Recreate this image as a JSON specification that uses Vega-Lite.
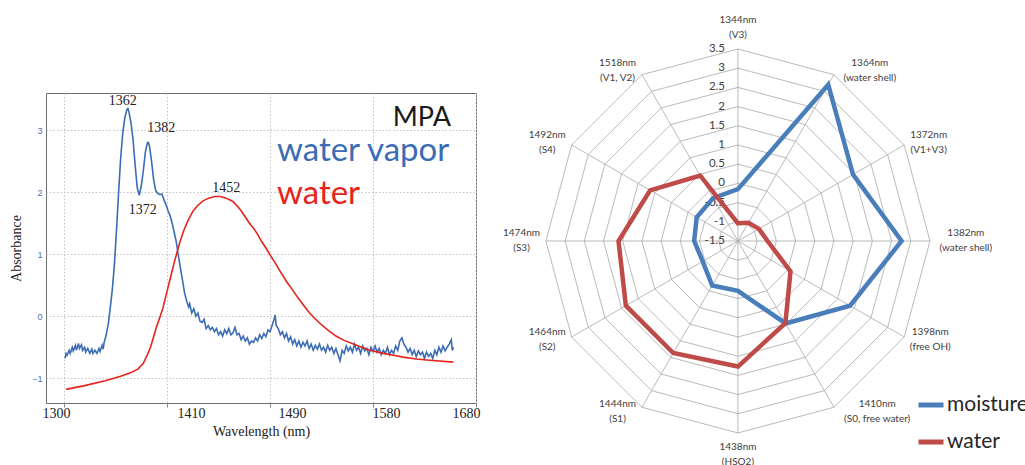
{
  "$schema": "https://vega.github.io/schema/vega-lite/v6.json",
  "padding": {"left": 9, "top": 0, "right": 0, "bottom": 0},
  "background": "white",
  "spacing": 10,
  "config": {"view": {"stroke": null}, "font": "Lato"},
  "resolve": {"scale": {"color": "independent"}, "legend": {"color": "independent"}},
  "datasets": {
    "spectrum": [
      {"s": "water vapor", "wl": 1301, "abs": -0.68}, {"s": "water vapor", "wl": 1302, "abs": -0.6}, {"s": "water vapor", "wl": 1303, "abs": -0.63},
      {"s": "water vapor", "wl": 1305, "abs": -0.55}, {"s": "water vapor", "wl": 1306, "abs": -0.6}, {"s": "water vapor", "wl": 1308, "abs": -0.5},
      {"s": "water vapor", "wl": 1309, "abs": -0.56}, {"s": "water vapor", "wl": 1311, "abs": -0.47}, {"s": "water vapor", "wl": 1312, "abs": -0.55},
      {"s": "water vapor", "wl": 1314, "abs": -0.44}, {"s": "water vapor", "wl": 1315, "abs": -0.52}, {"s": "water vapor", "wl": 1317, "abs": -0.46},
      {"s": "water vapor", "wl": 1318, "abs": -0.55}, {"s": "water vapor", "wl": 1320, "abs": -0.5}, {"s": "water vapor", "wl": 1321, "abs": -0.58},
      {"s": "water vapor", "wl": 1323, "abs": -0.52}, {"s": "water vapor", "wl": 1325, "abs": -0.6}, {"s": "water vapor", "wl": 1327, "abs": -0.53},
      {"s": "water vapor", "wl": 1328, "abs": -0.6}, {"s": "water vapor", "wl": 1330, "abs": -0.55}, {"s": "water vapor", "wl": 1332, "abs": -0.6},
      {"s": "water vapor", "wl": 1334, "abs": -0.52}, {"s": "water vapor", "wl": 1335, "abs": -0.57}, {"s": "water vapor", "wl": 1337, "abs": -0.47},
      {"s": "water vapor", "wl": 1338, "abs": -0.53}, {"s": "water vapor", "wl": 1339, "abs": -0.42}, {"s": "water vapor", "wl": 1341, "abs": -0.3},
      {"s": "water vapor", "wl": 1343, "abs": -0.12}, {"s": "water vapor", "wl": 1345, "abs": 0.15}, {"s": "water vapor", "wl": 1347, "abs": 0.45},
      {"s": "water vapor", "wl": 1349, "abs": 0.85}, {"s": "water vapor", "wl": 1351, "abs": 1.4}, {"s": "water vapor", "wl": 1353, "abs": 2.0},
      {"s": "water vapor", "wl": 1355, "abs": 2.55}, {"s": "water vapor", "wl": 1357, "abs": 2.95}, {"s": "water vapor", "wl": 1359, "abs": 3.2},
      {"s": "water vapor", "wl": 1361, "abs": 3.33}, {"s": "water vapor", "wl": 1362, "abs": 3.35}, {"s": "water vapor", "wl": 1363, "abs": 3.3},
      {"s": "water vapor", "wl": 1365, "abs": 3.12}, {"s": "water vapor", "wl": 1367, "abs": 2.85}, {"s": "water vapor", "wl": 1369, "abs": 2.45},
      {"s": "water vapor", "wl": 1371, "abs": 2.08}, {"s": "water vapor", "wl": 1373, "abs": 1.95}, {"s": "water vapor", "wl": 1375, "abs": 2.1},
      {"s": "water vapor", "wl": 1377, "abs": 2.35}, {"s": "water vapor", "wl": 1379, "abs": 2.65}, {"s": "water vapor", "wl": 1381, "abs": 2.8},
      {"s": "water vapor", "wl": 1382, "abs": 2.8}, {"s": "water vapor", "wl": 1383, "abs": 2.74}, {"s": "water vapor", "wl": 1385, "abs": 2.5},
      {"s": "water vapor", "wl": 1387, "abs": 2.2}, {"s": "water vapor", "wl": 1389, "abs": 2.03}, {"s": "water vapor", "wl": 1391, "abs": 1.98},
      {"s": "water vapor", "wl": 1393, "abs": 1.96}, {"s": "water vapor", "wl": 1395, "abs": 1.97}, {"s": "water vapor", "wl": 1397, "abs": 1.88},
      {"s": "water vapor", "wl": 1399, "abs": 1.8}, {"s": "water vapor", "wl": 1401, "abs": 1.7}, {"s": "water vapor", "wl": 1403, "abs": 1.62},
      {"s": "water vapor", "wl": 1405, "abs": 1.5}, {"s": "water vapor", "wl": 1407, "abs": 1.35}, {"s": "water vapor", "wl": 1409, "abs": 1.2},
      {"s": "water vapor", "wl": 1411, "abs": 0.98}, {"s": "water vapor", "wl": 1413, "abs": 0.78}, {"s": "water vapor", "wl": 1415, "abs": 0.58},
      {"s": "water vapor", "wl": 1417, "abs": 0.38}, {"s": "water vapor", "wl": 1419, "abs": 0.25}, {"s": "water vapor", "wl": 1421, "abs": 0.15},
      {"s": "water vapor", "wl": 1422, "abs": 0.2}, {"s": "water vapor", "wl": 1424, "abs": 0.05}, {"s": "water vapor", "wl": 1426, "abs": 0.12},
      {"s": "water vapor", "wl": 1428, "abs": 0.0}, {"s": "water vapor", "wl": 1430, "abs": 0.05}, {"s": "water vapor", "wl": 1432, "abs": -0.08},
      {"s": "water vapor", "wl": 1434, "abs": -0.1}, {"s": "water vapor", "wl": 1436, "abs": -0.05}, {"s": "water vapor", "wl": 1438, "abs": -0.2},
      {"s": "water vapor", "wl": 1440, "abs": -0.15}, {"s": "water vapor", "wl": 1442, "abs": -0.22}, {"s": "water vapor", "wl": 1444, "abs": -0.18},
      {"s": "water vapor", "wl": 1446, "abs": -0.25}, {"s": "water vapor", "wl": 1448, "abs": -0.2}, {"s": "water vapor", "wl": 1450, "abs": -0.3},
      {"s": "water vapor", "wl": 1452, "abs": -0.25}, {"s": "water vapor", "wl": 1454, "abs": -0.32}, {"s": "water vapor", "wl": 1456, "abs": -0.22},
      {"s": "water vapor", "wl": 1458, "abs": -0.28}, {"s": "water vapor", "wl": 1460, "abs": -0.2}, {"s": "water vapor", "wl": 1462, "abs": -0.3},
      {"s": "water vapor", "wl": 1464, "abs": -0.27}, {"s": "water vapor", "wl": 1466, "abs": -0.18}, {"s": "water vapor", "wl": 1468, "abs": -0.3},
      {"s": "water vapor", "wl": 1470, "abs": -0.28}, {"s": "water vapor", "wl": 1472, "abs": -0.38}, {"s": "water vapor", "wl": 1474, "abs": -0.32},
      {"s": "water vapor", "wl": 1476, "abs": -0.4}, {"s": "water vapor", "wl": 1478, "abs": -0.35}, {"s": "water vapor", "wl": 1480, "abs": -0.45},
      {"s": "water vapor", "wl": 1482, "abs": -0.4}, {"s": "water vapor", "wl": 1484, "abs": -0.42}, {"s": "water vapor", "wl": 1486, "abs": -0.35},
      {"s": "water vapor", "wl": 1488, "abs": -0.4}, {"s": "water vapor", "wl": 1490, "abs": -0.3}, {"s": "water vapor", "wl": 1492, "abs": -0.36},
      {"s": "water vapor", "wl": 1494, "abs": -0.28}, {"s": "water vapor", "wl": 1496, "abs": -0.33}, {"s": "water vapor", "wl": 1498, "abs": -0.22},
      {"s": "water vapor", "wl": 1500, "abs": -0.25}, {"s": "water vapor", "wl": 1502, "abs": -0.15}, {"s": "water vapor", "wl": 1504, "abs": -0.05},
      {"s": "water vapor", "wl": 1505, "abs": 0.02}, {"s": "water vapor", "wl": 1506, "abs": -0.15}, {"s": "water vapor", "wl": 1508, "abs": -0.2},
      {"s": "water vapor", "wl": 1510, "abs": -0.3}, {"s": "water vapor", "wl": 1512, "abs": -0.25}, {"s": "water vapor", "wl": 1514, "abs": -0.35},
      {"s": "water vapor", "wl": 1516, "abs": -0.28}, {"s": "water vapor", "wl": 1518, "abs": -0.4}, {"s": "water vapor", "wl": 1520, "abs": -0.33},
      {"s": "water vapor", "wl": 1522, "abs": -0.45}, {"s": "water vapor", "wl": 1524, "abs": -0.38}, {"s": "water vapor", "wl": 1526, "abs": -0.48},
      {"s": "water vapor", "wl": 1528, "abs": -0.4}, {"s": "water vapor", "wl": 1530, "abs": -0.5}, {"s": "water vapor", "wl": 1532, "abs": -0.42},
      {"s": "water vapor", "wl": 1534, "abs": -0.48}, {"s": "water vapor", "wl": 1536, "abs": -0.4}, {"s": "water vapor", "wl": 1538, "abs": -0.52},
      {"s": "water vapor", "wl": 1540, "abs": -0.45}, {"s": "water vapor", "wl": 1542, "abs": -0.55}, {"s": "water vapor", "wl": 1544, "abs": -0.47},
      {"s": "water vapor", "wl": 1546, "abs": -0.53}, {"s": "water vapor", "wl": 1548, "abs": -0.45}, {"s": "water vapor", "wl": 1550, "abs": -0.55},
      {"s": "water vapor", "wl": 1552, "abs": -0.5}, {"s": "water vapor", "wl": 1554, "abs": -0.58}, {"s": "water vapor", "wl": 1556, "abs": -0.47},
      {"s": "water vapor", "wl": 1558, "abs": -0.55}, {"s": "water vapor", "wl": 1560, "abs": -0.5}, {"s": "water vapor", "wl": 1562, "abs": -0.6},
      {"s": "water vapor", "wl": 1564, "abs": -0.52}, {"s": "water vapor", "wl": 1566, "abs": -0.62}, {"s": "water vapor", "wl": 1568, "abs": -0.72},
      {"s": "water vapor", "wl": 1570, "abs": -0.55}, {"s": "water vapor", "wl": 1572, "abs": -0.6}, {"s": "water vapor", "wl": 1574, "abs": -0.48},
      {"s": "water vapor", "wl": 1576, "abs": -0.56}, {"s": "water vapor", "wl": 1578, "abs": -0.5}, {"s": "water vapor", "wl": 1580, "abs": -0.58},
      {"s": "water vapor", "wl": 1582, "abs": -0.45}, {"s": "water vapor", "wl": 1584, "abs": -0.55}, {"s": "water vapor", "wl": 1586, "abs": -0.5},
      {"s": "water vapor", "wl": 1588, "abs": -0.6}, {"s": "water vapor", "wl": 1590, "abs": -0.48}, {"s": "water vapor", "wl": 1592, "abs": -0.56},
      {"s": "water vapor", "wl": 1594, "abs": -0.52}, {"s": "water vapor", "wl": 1596, "abs": -0.62}, {"s": "water vapor", "wl": 1598, "abs": -0.5},
      {"s": "water vapor", "wl": 1600, "abs": -0.57}, {"s": "water vapor", "wl": 1602, "abs": -0.48}, {"s": "water vapor", "wl": 1604, "abs": -0.58},
      {"s": "water vapor", "wl": 1606, "abs": -0.52}, {"s": "water vapor", "wl": 1608, "abs": -0.62}, {"s": "water vapor", "wl": 1610, "abs": -0.55},
      {"s": "water vapor", "wl": 1612, "abs": -0.6}, {"s": "water vapor", "wl": 1614, "abs": -0.5}, {"s": "water vapor", "wl": 1616, "abs": -0.62},
      {"s": "water vapor", "wl": 1618, "abs": -0.55}, {"s": "water vapor", "wl": 1620, "abs": -0.6}, {"s": "water vapor", "wl": 1622, "abs": -0.48},
      {"s": "water vapor", "wl": 1624, "abs": -0.55}, {"s": "water vapor", "wl": 1626, "abs": -0.4}, {"s": "water vapor", "wl": 1628, "abs": -0.35},
      {"s": "water vapor", "wl": 1630, "abs": -0.45}, {"s": "water vapor", "wl": 1632, "abs": -0.5}, {"s": "water vapor", "wl": 1634, "abs": -0.58},
      {"s": "water vapor", "wl": 1636, "abs": -0.52}, {"s": "water vapor", "wl": 1638, "abs": -0.62}, {"s": "water vapor", "wl": 1640, "abs": -0.55},
      {"s": "water vapor", "wl": 1642, "abs": -0.65}, {"s": "water vapor", "wl": 1644, "abs": -0.56}, {"s": "water vapor", "wl": 1646, "abs": -0.62},
      {"s": "water vapor", "wl": 1648, "abs": -0.58}, {"s": "water vapor", "wl": 1650, "abs": -0.68}, {"s": "water vapor", "wl": 1652, "abs": -0.58},
      {"s": "water vapor", "wl": 1654, "abs": -0.65}, {"s": "water vapor", "wl": 1656, "abs": -0.6}, {"s": "water vapor", "wl": 1658, "abs": -0.68},
      {"s": "water vapor", "wl": 1660, "abs": -0.55}, {"s": "water vapor", "wl": 1662, "abs": -0.62}, {"s": "water vapor", "wl": 1664, "abs": -0.5},
      {"s": "water vapor", "wl": 1666, "abs": -0.58}, {"s": "water vapor", "wl": 1668, "abs": -0.48}, {"s": "water vapor", "wl": 1670, "abs": -0.56},
      {"s": "water vapor", "wl": 1672, "abs": -0.5}, {"s": "water vapor", "wl": 1674, "abs": -0.45}, {"s": "water vapor", "wl": 1676, "abs": -0.38},
      {"s": "water vapor", "wl": 1677, "abs": -0.55}, {"s": "water vapor", "wl": 1678, "abs": -0.5},
      {"s": "water", "wl": 1302, "abs": -1.18}, {"s": "water", "wl": 1320, "abs": -1.12}, {"s": "water", "wl": 1340, "abs": -1.04},
      {"s": "water", "wl": 1355, "abs": -0.97}, {"s": "water", "wl": 1365, "abs": -0.91}, {"s": "water", "wl": 1372, "abs": -0.85},
      {"s": "water", "wl": 1377, "abs": -0.76}, {"s": "water", "wl": 1381, "abs": -0.62}, {"s": "water", "wl": 1384, "abs": -0.5},
      {"s": "water", "wl": 1387, "abs": -0.33}, {"s": "water", "wl": 1390, "abs": -0.16}, {"s": "water", "wl": 1393, "abs": -0.02},
      {"s": "water", "wl": 1396, "abs": 0.13}, {"s": "water", "wl": 1400, "abs": 0.4}, {"s": "water", "wl": 1403, "abs": 0.6},
      {"s": "water", "wl": 1406, "abs": 0.8}, {"s": "water", "wl": 1410, "abs": 1.05}, {"s": "water", "wl": 1413, "abs": 1.22},
      {"s": "water", "wl": 1416, "abs": 1.37}, {"s": "water", "wl": 1420, "abs": 1.53}, {"s": "water", "wl": 1425, "abs": 1.69},
      {"s": "water", "wl": 1430, "abs": 1.79}, {"s": "water", "wl": 1435, "abs": 1.86}, {"s": "water", "wl": 1440, "abs": 1.9},
      {"s": "water", "wl": 1446, "abs": 1.93}, {"s": "water", "wl": 1452, "abs": 1.93}, {"s": "water", "wl": 1458, "abs": 1.9},
      {"s": "water", "wl": 1464, "abs": 1.85}, {"s": "water", "wl": 1468, "abs": 1.78}, {"s": "water", "wl": 1472, "abs": 1.7},
      {"s": "water", "wl": 1476, "abs": 1.6}, {"s": "water", "wl": 1480, "abs": 1.5}, {"s": "water", "wl": 1484, "abs": 1.42},
      {"s": "water", "wl": 1488, "abs": 1.32}, {"s": "water", "wl": 1492, "abs": 1.2}, {"s": "water", "wl": 1496, "abs": 1.1},
      {"s": "water", "wl": 1500, "abs": 0.99}, {"s": "water", "wl": 1505, "abs": 0.86}, {"s": "water", "wl": 1510, "abs": 0.72},
      {"s": "water", "wl": 1516, "abs": 0.56}, {"s": "water", "wl": 1522, "abs": 0.42}, {"s": "water", "wl": 1527, "abs": 0.3},
      {"s": "water", "wl": 1532, "abs": 0.19}, {"s": "water", "wl": 1538, "abs": 0.06}, {"s": "water", "wl": 1543, "abs": -0.03},
      {"s": "water", "wl": 1548, "abs": -0.11}, {"s": "water", "wl": 1556, "abs": -0.22}, {"s": "water", "wl": 1564, "abs": -0.32},
      {"s": "water", "wl": 1572, "abs": -0.39}, {"s": "water", "wl": 1581, "abs": -0.45}, {"s": "water", "wl": 1589, "abs": -0.5},
      {"s": "water", "wl": 1597, "abs": -0.55}, {"s": "water", "wl": 1610, "abs": -0.6}, {"s": "water", "wl": 1620, "abs": -0.63},
      {"s": "water", "wl": 1629, "abs": -0.66}, {"s": "water", "wl": 1642, "abs": -0.69}, {"s": "water", "wl": 1655, "abs": -0.71},
      {"s": "water", "wl": 1678, "abs": -0.74}
    ],
    "peaks": [
      {"label": "1362", "wl": 1357, "abs": 3.47},
      {"label": "1382", "wl": 1394.5, "abs": 3.04},
      {"label": "1372", "wl": 1376.5, "abs": 1.72},
      {"label": "1452", "wl": 1457.5, "abs": 2.07}
    ],
    "axes": [
      {"i": 0, "a": "1344nm", "b": "(V3)"},
      {"i": 1, "a": "1364nm", "b": "(water shell)"},
      {"i": 2, "a": "1372nm", "b": "(V1+V3)"},
      {"i": 3, "a": "1382nm", "b": "(water shell)"},
      {"i": 4, "a": "1398nm", "b": "(free OH)"},
      {"i": 5, "a": "1410nm", "b": "(S0, free water)"},
      {"i": 6, "a": "1438nm", "b": "(HSO2)"},
      {"i": 7, "a": "1444nm", "b": "(S1)"},
      {"i": 8, "a": "1464nm", "b": "(S2)"},
      {"i": 9, "a": "1474nm", "b": "(S3)"},
      {"i": 10, "a": "1492nm", "b": "(S4)"},
      {"i": 11, "a": "1518nm", "b": "(V1, V2)"}
    ],
    "radar": [
      {"series": "moisture", "i": 0, "v": -0.15}, {"series": "moisture", "i": 1, "v": 3.2}, {"series": "moisture", "i": 2, "v": 1.96},
      {"series": "moisture", "i": 3, "v": 2.76}, {"series": "moisture", "i": 4, "v": 1.87}, {"series": "moisture", "i": 5, "v": 0.98},
      {"series": "moisture", "i": 6, "v": -0.2}, {"series": "moisture", "i": 7, "v": -0.16}, {"series": "moisture", "i": 8, "v": -0.44},
      {"series": "moisture", "i": 9, "v": -0.36}, {"series": "moisture", "i": 10, "v": -0.26}, {"series": "moisture", "i": 11, "v": -0.21},
      {"series": "water", "i": 0, "v": -1.04}, {"series": "water", "i": 1, "v": -0.95}, {"series": "water", "i": 2, "v": -0.87},
      {"series": "water", "i": 3, "v": -0.73}, {"series": "water", "i": 4, "v": 0.08}, {"series": "water", "i": 5, "v": 0.97},
      {"series": "water", "i": 6, "v": 1.77}, {"series": "water", "i": 7, "v": 1.87}, {"series": "water", "i": 8, "v": 1.87},
      {"series": "water", "i": 9, "v": 1.61}, {"series": "water", "i": 10, "v": 1.14}, {"series": "water", "i": 11, "v": 0.47}
    ],
    "rings": [
      {"level": -1, "idx": [0,1,2,3,4,5,6,7,8,9,10,11]},
      {"level": -0.5, "idx": [0,1,2,3,4,5,6,7,8,9,10,11]},
      {"level": 0, "idx": [0,1,2,3,4,5,6,7,8,9,10,11]},
      {"level": 0.5, "idx": [0,1,2,3,4,5,6,7,8,9,10,11]},
      {"level": 1, "idx": [0,1,2,3,4,5,6,7,8,9,10,11]},
      {"level": 1.5, "idx": [0,1,2,3,4,5,6,7,8,9,10,11]},
      {"level": 2, "idx": [0,1,2,3,4,5,6,7,8,9,10,11]},
      {"level": 2.5, "idx": [0,1,2,3,4,5,6,7,8,9,10,11]},
      {"level": 3, "idx": [0,1,2,3,4,5,6,7,8,9,10,11]},
      {"level": 3.5, "idx": [0,1,2,3,4,5,6,7,8,9,10,11]}
    ],
    "ticks": [
      {"level": -1.5}, {"level": -1}, {"level": -0.5}, {"level": 0}, {"level": 0.5}, {"level": 1},
      {"level": 1.5}, {"level": 2}, {"level": 2.5}, {"level": 3}, {"level": 3.5}
    ]
  },
  "hconcat": [
    {
      "width": 430,
      "height": 310,
      "title": {"text": " ", "fontSize": 10, "offset": 82},
      "view": {"stroke": "#6e6e6e", "strokeWidth": 1},
      "layer": [
        {
          "data": {"name": "spectrum"},
          "mark": {"type": "line", "strokeWidth": 1.6, "clip": true},
          "encoding": {
            "x": {
              "field": "wl", "type": "quantitative",
              "scale": {"domain": [1282.5, 1700], "nice": false, "zero": false},
              "axis": {
                "values": [1300, 1400, 1500, 1600, 1700],
                "title": "Wavelength (nm)",
                "titleFont": "Liberation Serif", "titleFontSize": 14, "titleFontWeight": "normal", "titleColor": "#222222", "titlePadding": 4,
                "labelFont": "Liberation Serif", "labelFontSize": 14, "labelColor": "#222222", "labelPadding": -1,
                "labelFlush": false, "labelOverlap": false,
                "labelExpr": "datum.value == 1300 ? '1300' : datum.value == 1400 ? '1410' : datum.value == 1500 ? '1490' : datum.value == 1600 ? '1580' : '1680'",
                "labelOffset": {"expr": "datum.value < 1350 ? -8 : datum.value < 1450 ? 24 : datum.value < 1550 ? 22 : datum.value < 1650 ? 13 : -10"},
                "ticks": true, "tickSize": 4, "tickColor": "#888888",
                "domain": false,
                "grid": true, "gridColor": "#c4c4c4", "gridDash": [1.5, 2]
              }
            },
            "y": {
              "field": "abs", "type": "quantitative",
              "scale": {"domain": [-1.4, 3.6], "nice": false, "zero": false},
              "axis": {
                "values": [-1, 0, 1, 2, 3],
                "format": "d",
                "title": "Absorbance",
                "titleFont": "Liberation Serif", "titleFontSize": 14, "titleFontWeight": "normal", "titleColor": "#222222", "titlePadding": 8,
                "labelFont": "Liberation Sans", "labelFontSize": 9, "labelColor": "#4a72b8", "labelPadding": 4,
                "ticks": false, "domain": false,
                "grid": true, "gridColor": "#c4c4c4", "gridDash": [1.5, 2]
              }
            },
            "color": {
              "field": "s", "type": "nominal",
              "scale": {"domain": ["water vapor", "water"], "range": ["#3b6cb5", "#e8231c"]},
              "legend": {
                "orient": "none", "legendX": 198, "legendY": 12,
                "title": "MPA", "titleFont": "Lato", "titleFontSize": 27, "titleFontWeight": "normal", "titleColor": "#1a1a1a",
                "titleAnchor": "end", "titlePadding": 2,
                "labelFont": "Lato", "labelFontSize": 33, "labelLimit": 400, "labelOffset": 0,
                "labelColor": {"expr": "datum.value === 'water' ? '#e8231c' : '#3b6cb5'"},
                "symbolSize": 0, "symbolOpacity": 0, "symbolStrokeWidth": 0,
                "rowPadding": 9, "padding": 0
              }
            }
          }
        },
        {
          "data": {"name": "peaks"},
          "mark": {"type": "text", "font": "Liberation Serif", "fontSize": 14, "color": "#222222"},
          "encoding": {
            "x": {"field": "wl", "type": "quantitative"},
            "y": {"field": "abs", "type": "quantitative"},
            "text": {"field": "label", "type": "nominal"}
          }
        }
      ]
    },
    {
      "width": 535,
      "height": 373,
      "layer": [
        {
          "data": {"name": "rings"},
          "transform": [
            {"flatten": ["idx"], "as": ["i"]},
            {"calculate": "datum.level + 1.5", "as": "r"},
            {"calculate": "datum.r * sin(datum.i * PI / 6)", "as": "px"},
            {"calculate": "datum.r * cos(datum.i * PI / 6)", "as": "py"}
          ],
          "mark": {"type": "line", "interpolate": "linear-closed", "color": "#a8a8a8", "strokeWidth": 0.8},
          "encoding": {
            "x": {"field": "px", "type": "quantitative", "scale": {"domain": [-6.43, 7.5], "nice": false, "zero": false}, "axis": null},
            "y": {"field": "py", "type": "quantitative", "scale": {"domain": [-5.86, 3.854], "nice": false, "zero": false}, "axis": null},
            "detail": {"field": "level", "type": "nominal"},
            "order": {"field": "i", "type": "quantitative"}
          }
        },
        {
          "data": {"name": "axes"},
          "transform": [
            {"calculate": "0", "as": "zero"},
            {"calculate": "5 * sin(datum.i * PI / 6)", "as": "ox"},
            {"calculate": "5 * cos(datum.i * PI / 6)", "as": "oy"}
          ],
          "mark": {"type": "rule", "color": "#a8a8a8", "strokeWidth": 0.8},
          "encoding": {
            "x": {"field": "zero", "type": "quantitative", "scale": {"domain": [-6.43, 7.5], "nice": false, "zero": false}, "axis": null},
            "y": {"field": "zero", "type": "quantitative", "scale": {"domain": [-5.86, 3.854], "nice": false, "zero": false}, "axis": null},
            "x2": {"field": "ox"},
            "y2": {"field": "oy"}
          }
        },
        {
          "data": {"name": "ticks"},
          "transform": [
            {"calculate": "0", "as": "zero"},
            {"calculate": "datum.level + 1.5", "as": "r"},
            {"calculate": "'' + datum.level", "as": "lab"}
          ],
          "mark": {"type": "text", "align": "right", "baseline": "middle", "dx": -13, "dy": 0, "fontSize": 11.5, "font": "Lato", "color": "#404040"},
          "encoding": {
            "x": {"field": "zero", "type": "quantitative", "scale": {"domain": [-6.43, 7.5], "nice": false, "zero": false}, "axis": null},
            "y": {"field": "r", "type": "quantitative", "scale": {"domain": [-5.86, 3.854], "nice": false, "zero": false}, "axis": null},
            "text": {"field": "lab", "type": "nominal"}
          }
        },
        {
          "data": {"name": "radar"},
          "transform": [
            {"calculate": "datum.v + 1.5", "as": "r"},
            {"calculate": "datum.r * sin(datum.i * PI / 6)", "as": "px"},
            {"calculate": "datum.r * cos(datum.i * PI / 6)", "as": "py"}
          ],
          "mark": {"type": "line", "interpolate": "linear-closed", "strokeWidth": 4.5},
          "encoding": {
            "x": {"field": "px", "type": "quantitative", "scale": {"domain": [-6.43, 7.5], "nice": false, "zero": false}, "axis": null},
            "y": {"field": "py", "type": "quantitative", "scale": {"domain": [-5.86, 3.854], "nice": false, "zero": false}, "axis": null},
            "order": {"field": "i", "type": "quantitative"},
            "color": {
              "field": "series", "type": "nominal",
              "scale": {"domain": ["moisture", "water"], "range": ["#4a7ebb", "#be4b48"]},
              "legend": {
                "orient": "none", "legendX": 425, "legendY": 297,
                "title": null,
                "symbolType": "stroke", "symbolSize": 625, "symbolStrokeWidth": 5,
                "labelFont": "Lato", "labelFontSize": 21, "labelColor": "#262626", "labelOffset": 1, "labelLimit": 300,
                "rowPadding": 12, "padding": 0
              }
            }
          }
        },
        {
          "data": {"name": "axes"},
          "transform": [
            {"calculate": "sin(datum.i * PI / 6)", "as": "s"},
            {"calculate": "cos(datum.i * PI / 6)", "as": "c"},
            {"calculate": "max(length(datum.a) * 6.8, length(datum.b) * 4.9)", "as": "w"},
            {"calculate": "abs(datum.s) < 0.01 ? 0 : 5 * datum.s + (datum.s > 0 ? 1 : -1) * (4 + datum.w / 2) / 38.4", "as": "lx"},
            {"calculate": "abs(datum.s) < 0.01 ? datum.c * 5.57 : datum.c * 5.14", "as": "ly"},
            {"calculate": "[datum.a, datum.b]", "as": "lab"}
          ],
          "mark": {"type": "text", "align": "center", "baseline": "middle", "dy": -7.5, "fontSize": 10, "lineHeight": 15, "font": "Lato", "color": "#404040"},
          "encoding": {
            "x": {"field": "lx", "type": "quantitative", "scale": {"domain": [-6.43, 7.5], "nice": false, "zero": false}, "axis": null},
            "y": {"field": "ly", "type": "quantitative", "scale": {"domain": [-5.86, 3.854], "nice": false, "zero": false}, "axis": null},
            "text": {"field": "lab", "type": "nominal"}
          }
        }
      ]
    }
  ]
}
